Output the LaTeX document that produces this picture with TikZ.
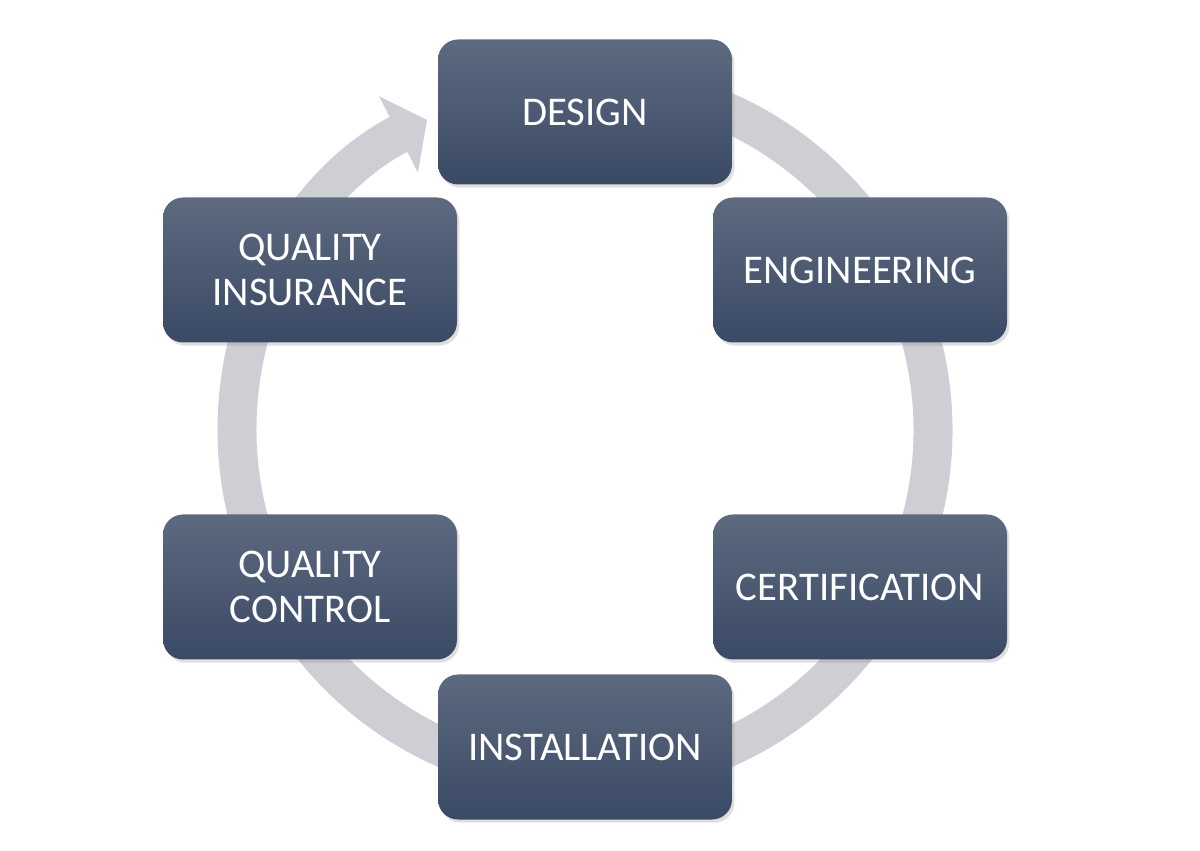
\documentclass[tikz,border=0pt]{standalone}
\usepackage{fontspec}
\setmainfont{Carlito}
\usetikzlibrary{arrows.meta,shadows}
\definecolor{ringgray}{RGB}{205,207,212}
\definecolor{boxtop}{RGB}{93,106,127}
\definecolor{boxbot}{RGB}{58,73,101}
\begin{document}
\begin{tikzpicture}[
stage/.style={rounded corners=0.5cm, top color=boxtop, bottom color=boxbot,
  minimum width=7.35cm, minimum height=3.625cm, text=white, align=center,
  font=\fontsize{29}{31.5}\selectfont,
  drop shadow={opacity=0.25, shadow xshift=0.06cm, shadow yshift=-0.08cm}},
ring/.style={ringgray, line width=0.975cm, -{Triangle[length=0.8cm,width=2.1cm]}}
]
\useasboundingbox (0,0) rectangle (30,21.25);

\coordinate (O) at (14.625, 10.5);

\draw[ring] (O) ++(95:8.7) arc[start angle=95, end angle=-243, radius=8.7];

\node[stage] (design) at (14.625, 18.45) {DESIGN};
\node[stage] (engineering) at (21.5, 14.5) {ENGINEERING};
\node[stage] (certification) at (21.5, 6.575) {CERTIFICATION};
\node[stage] (installation) at (14.625, 2.575) {INSTALLATION};
\node[stage] (qcontrol) at (7.75, 6.575) {QUALITY\\CONTROL};
\node[stage] (qinsurance) at (7.75, 14.5) {QUALITY\\INSURANCE};

\end{tikzpicture}
\end{document}
